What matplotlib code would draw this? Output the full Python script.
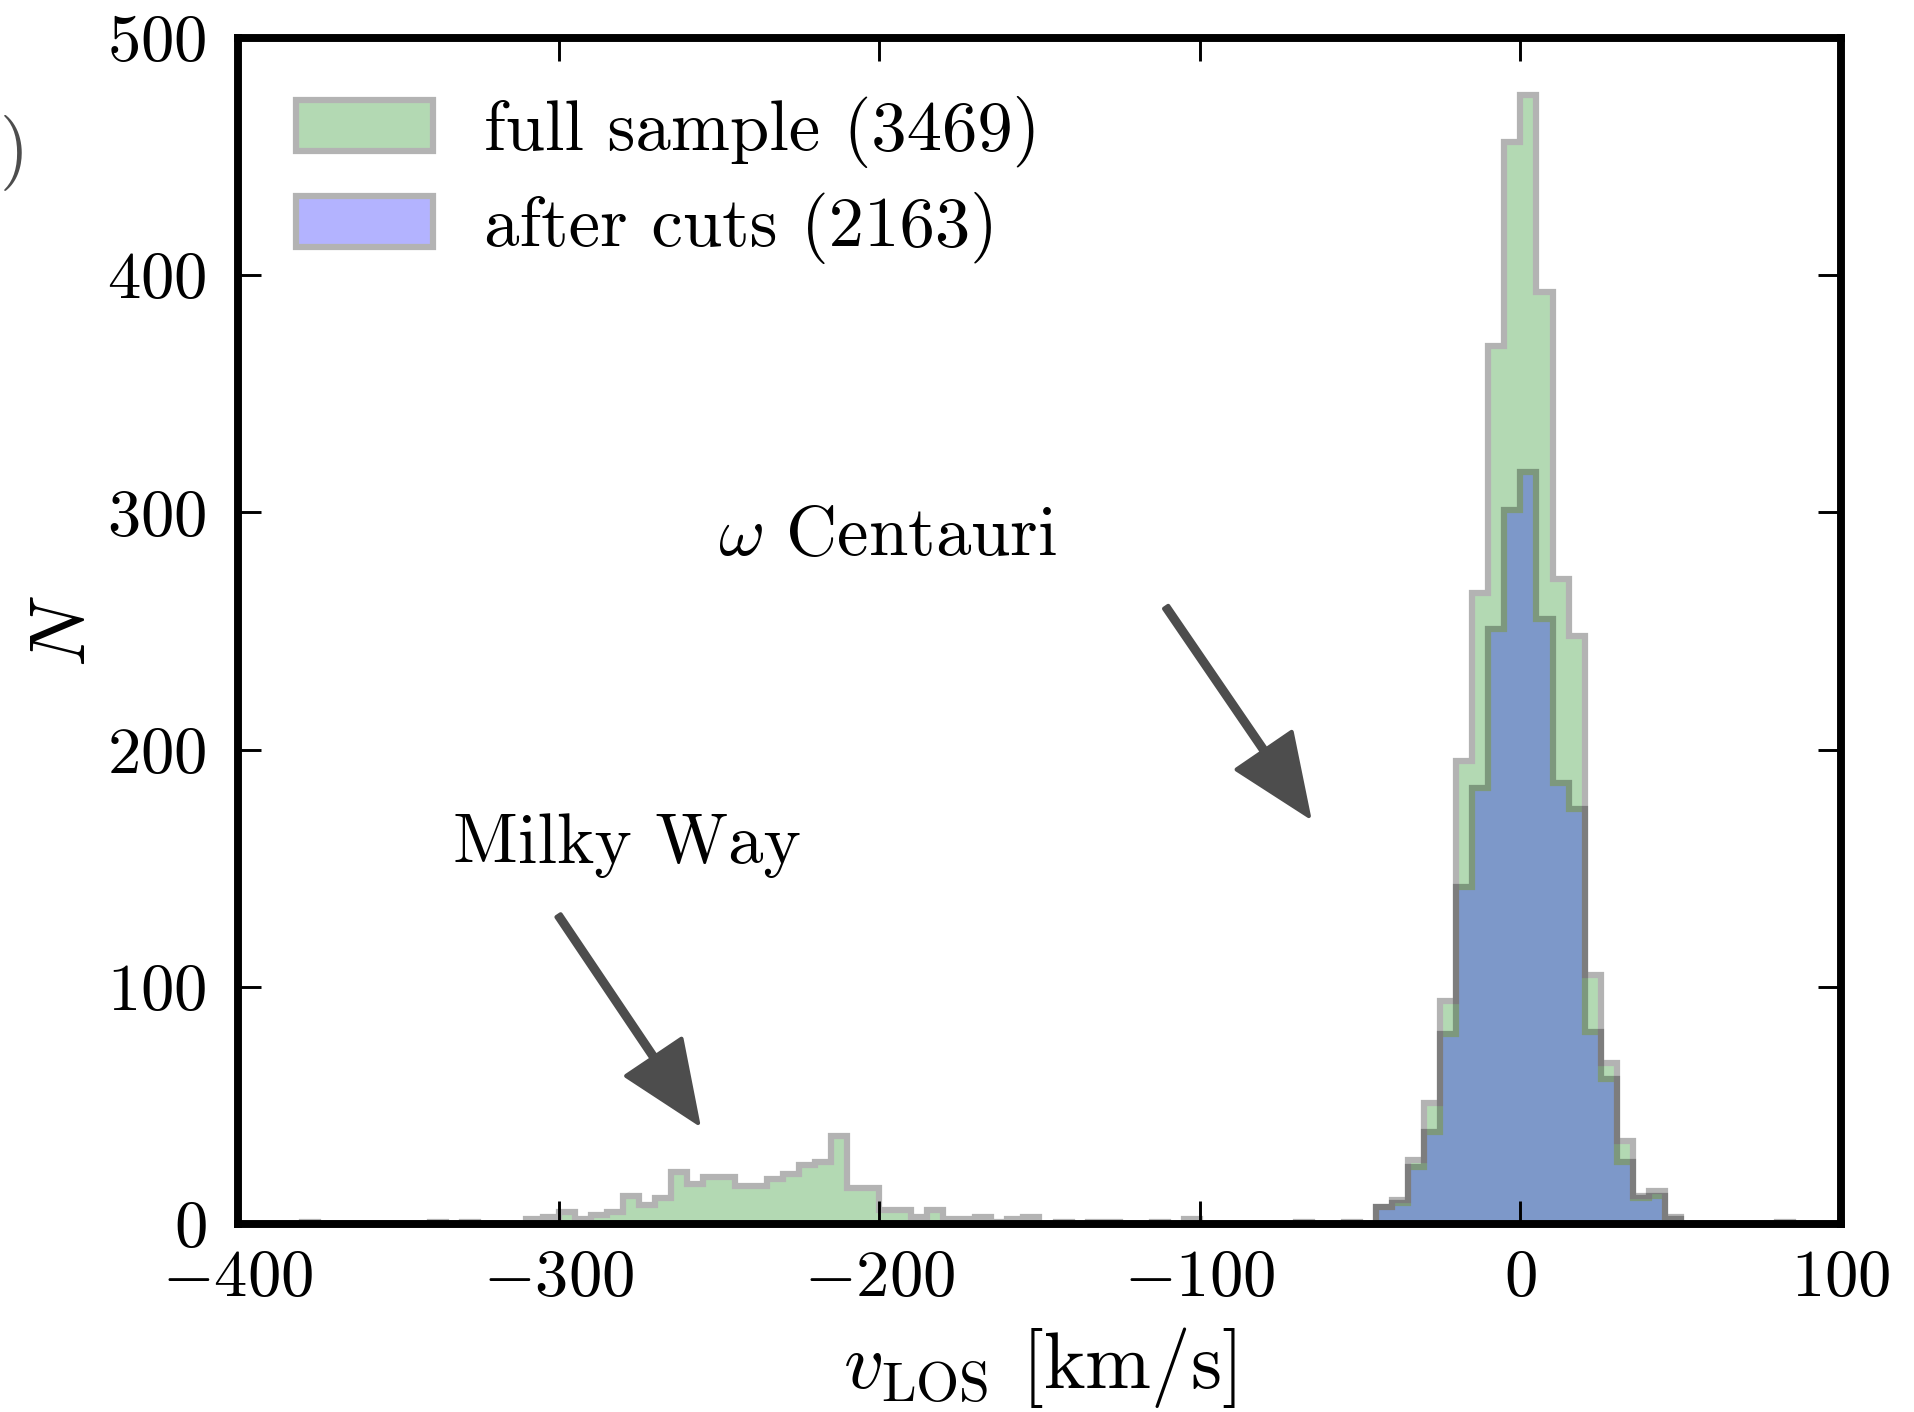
import numpy as np
import matplotlib
matplotlib.use("Agg")
import matplotlib.pyplot as plt

plt.rcParams["font.family"] = "serif"
plt.rcParams["font.serif"] = ["cmr10"]
plt.rcParams["mathtext.fontset"] = "cm"
plt.rcParams["axes.formatter.use_mathtext"] = True

# 5 km/s bins from -400 to 100 km/s
bin_edges = np.arange(-400, 105, 5)
bin_centers = bin_edges[:-1] + 2.5

# counts per bin, full sample (3469 stars)
n_full = [
    0, 0, 0, 0, 1, 0, 0, 0, 0, 0,            # -400 .. -355
    0, 0, 1, 0, 1, 0, 0, 0, 2, 3,            # -350 .. -305
    5, 2, 4, 5, 12, 8, 11, 22, 17, 20,       # -300 .. -255
    20, 16, 16, 19, 21, 25, 26, 37, 15, 15,  # -250 .. -205
    6, 6, 3, 6, 2, 2, 3, 1, 2, 3,            # -200 .. -155
    0, 1, 0, 1, 1, 0, 0, 1, 0, 2,            # -150 .. -105
    0, 0, 0, 0, 0, 0, 1, 0, 0, 1,            # -100 .. -55
    0, 7, 10, 27, 51, 94, 195, 266, 370, 456,   # -50 .. -5
    476, 393, 272, 248, 105, 68, 35, 12, 14, 3, # 0 .. 45
    0, 0, 0, 0, 0, 0, 1, 0, 0, 0,            # 50 .. 95
]

# counts per bin after quality cuts (2163 stars)
n_cuts = [0] * 71 + [
    7, 9, 24, 39, 80, 142, 184, 251, 301,    # -45 .. -5
    317, 255, 186, 175, 81, 61, 26, 11, 12, 2,  # 0 .. 45
] + [0] * 10

label_full = "full sample (3469)"
label_cuts = "after cuts (2163)"


def group_alpha(alpha):
    # fade the whole rendered patch at once, so the edge does not
    # stack on top of its own fill
    def _filter(img, dpi):
        img = img.copy()
        img[..., 3] *= alpha
        return img, 0, 0
    return _filter


fig = plt.figure(figsize=(6.38, 4.7067), dpi=300)
ax = fig.add_axes([0.1243, 0.1331, 0.8376, 0.8400])

_, _, p_full = ax.hist(bin_centers, bins=bin_edges, weights=n_full,
                       histtype="stepfilled", facecolor="green",
                       edgecolor="k", linewidth=1.5, label=label_full)
_, _, p_cuts = ax.hist(bin_centers, bins=bin_edges, weights=n_cuts,
                       histtype="stepfilled", facecolor="blue",
                       edgecolor="k", linewidth=1.5, label=label_cuts)
for p in list(p_full) + list(p_cuts):
    p.set_agg_filter(group_alpha(0.3))

ax.set_xlim(-400, 100)
ax.set_ylim(0, 500)
ax.set_xticks([-400, -300, -200, -100, 0, 100])
ax.set_yticks([0, 100, 200, 300, 400, 500])
ax.tick_params(direction="in", top=True, right=True, length=5.5, width=0.7,
               labelsize=16)
ax.tick_params(axis="x", pad=6)
ax.tick_params(axis="y", pad=7.5)
for s in ax.spines.values():
    s.set_linewidth(1.9)

ax.set_xlabel(r"$v_{\rm LOS}$ [km/s]", fontsize=19, labelpad=4)
ax.set_ylabel(r"$N$", fontsize=19, labelpad=1.5)

leg = ax.legend(loc="upper left", frameon=False, fontsize=17,
                handlelength=1.93, handleheight=0.72, handletextpad=0.72,
                labelspacing=0.34, borderaxespad=0.42)
for p in leg.get_patches():
    p.set_linewidth(1.5)
    p.set_agg_filter(group_alpha(0.3))

# annotations for the two velocity components
ax.text(-197.5, 289.6, r"$\omega$ Centauri", fontsize=17,
        ha="center", va="center")
ax.annotate("", xy=(-66, 172), xytext=(-110.5, 260),
            arrowprops=dict(facecolor="0.3", edgecolor="0.3", width=1.2,
                            headwidth=16, headlength=19, shrink=0))
ax.text(-278.6, 159.4, "Milky Way", fontsize=17, ha="center", va="center")
ax.annotate("", xy=(-256.5, 42.6), xytext=(-300, 130),
            arrowprops=dict(facecolor="0.3", edgecolor="0.3", width=1.2,
                            headwidth=16, headlength=19, shrink=0))

fig.text(0.0, 0.892, ")", fontsize=18, color="0.3", ha="left", va="center")

fig.savefig("out.png", dpi=300)
